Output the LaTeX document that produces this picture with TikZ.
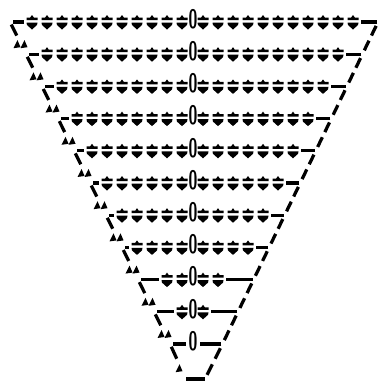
\documentclass[tikz,border=0pt]{standalone}
\usetikzlibrary{calc}
\tikzset{
  rowdash/.style={line width=2.3pt},
  zero/.style={inner sep=0pt, font=\sffamily\bfseries\fontsize{19}{19}\selectfont},
  drop/.pic={
    \fill (-1.8,-4.5) -- (0,-7) -- (1.8,-4.5) -- (5.5,-4.5) -- (5.5,-2) -- (-5.5,-2) -- (-5.5,-4.5) -- cycle;
    \fill (-5.5,0.5) -- (5.5,0.5) -- (5,3) -- (0,7.5) -- (-5,3) -- cycle;
  },
  tip/.pic={
    \fill (0,-5) -- (-4,3) -- (3,2) -- cycle;
  }
}
\begin{document}
\begin{tikzpicture}[x=0.025cm, y=-0.025cm]
\useasboundingbox (0,0) rectangle (380,383);
% corners of the funnel
\coordinate (tl) at (10,22);
\coordinate (tr) at (378,22);
\coordinate (bl) at (186,379);
\coordinate (br) at (205,379);
% rows
\foreach \k in {0,...,10} {
  \pgfmathsetmacro{\yy}{22+32.2*\k}
  \pgfmathsetmacro{\xl}{10+0.497*(\yy-22)}
  \pgfmathsetmacro{\xr}{378-0.483*(\yy-22)}
  \pgfmathtruncatemacro{\nl}{max(0,floor((182-\xl-14)/15)+1)}
  \pgfmathtruncatemacro{\nr}{max(0,floor((\xr-21-203)/15)+1)}
  \pgfmathsetmacro{\first}{ifthenelse(\nl>0,182-15*(\nl-1),194)}
  \pgfmathsetmacro{\last}{ifthenelse(\nr>0,203+15*(\nr-1),192)}
  \node[zero] (z\k) at (193,\yy-3) {\scalebox{0.6}[1]{0}};
  \coordinate (l\k) at (\xl,\yy);
  \coordinate (r\k) at (\xr,\yy);
  \draw[rowdash] ($(l\k)+(3,0)$) -- (\first-8,\yy);
  \draw[rowdash] ($(r\k)-(1,0)$) -- (\last+8,\yy);
  \foreach \j in {0,...,10} {
    \ifnum\j<\nl \pic at (182-15*\j,\yy) {drop}; \fi
    \ifnum\j<\nr \pic at (203+15*\j,\yy) {drop}; \fi
  }
}
% sides between rows
\foreach \k [evaluate=\k as \n using int(\k+1)] in {0,...,9} {
  \draw[rowdash] ($(l\k)!0.08!(l\n)$) -- ($(l\k)!0.42!(l\n)$);
  \pic at ($(l\k)!0.72!(l\n)+(-4,0)$) {tip};
  \pic at ($(l\k)!0.72!(l\n)+(3,0)$) {tip};
  \draw[rowdash] ($(r\k)!0.12!(r\n)$) -- ($(r\k)!0.42!(r\n)$);
  \draw[rowdash] ($(r\k)!0.58!(r\n)$) -- ($(r\k)!0.88!(r\n)$);
}
% bottom of the funnel
\draw[rowdash] ($(l10)!0.08!(bl)$) -- ($(l10)!0.42!(bl)$);
\pic at ($(l10)!0.72!(bl)+(-2,0)$) {tip};
\draw[rowdash] ($(r10)!0.12!(br)$) -- ($(r10)!0.42!(br)$);
\draw[rowdash] ($(r10)!0.58!(br)$) -- ($(r10)!0.88!(br)$);
\draw[rowdash] (bl) -- (br);
\end{tikzpicture}
\end{document}
